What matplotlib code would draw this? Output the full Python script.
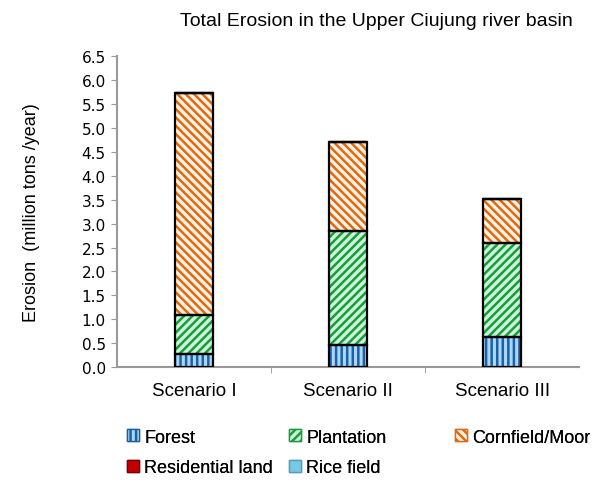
import matplotlib
matplotlib.use("Agg")
import matplotlib.pyplot as plt
import numpy as np
from matplotlib.patches import Patch

scenarios = ["Scenario I", "Scenario II", "Scenario III"]
forest = [0.27, 0.46, 0.64]
plantation = [0.83, 2.39, 1.96]
cornfield = [4.64, 1.86, 0.92]
residential = [0.0, 0.0, 0.0]
rice_field = [0.0, 0.0, 0.0]

plt.rcParams["font.family"] = ["Liberation Sans", "DejaVu Sans"]
plt.rcParams["hatch.linewidth"] = 1.8

# (label, values, face, hatch colour, hatch)
layers = [
    ("Forest", forest, "#a8d8f8", "#1f5fa8", "|||"),
    ("Plantation", plantation, "#c8f5dc", "#1e9a38", "////"),
    ("Cornfield/Moor", cornfield, "#fff1e4", "#e06a10", "\\\\\\\\"),
    ("Residential land", residential, "#c00000", "#7a0000", ""),
    ("Rice field", rice_field, "#7cc8e4", "#4aa0c0", ""),
]

fig = plt.figure(figsize=(6.09, 4.85), dpi=100)
ax = fig.add_axes([0.192, 0.241, 0.759, 0.641])

x = np.arange(len(scenarios))
width = 0.25
bottom = np.zeros(len(scenarios))
for label, vals, face, hcol, hatch in layers:
    vals = np.array(vals)
    ax.bar(x, vals, width, bottom=bottom, color=face, edgecolor=hcol,
           hatch=hatch, linewidth=0, zorder=2)
    ax.bar(x, vals, width, bottom=bottom, fill=False, edgecolor="black",
           linewidth=1.6, zorder=3)
    bottom += vals

ax.set_xlim(-0.5, 2.5)
ax.set_ylim(0, 6.5)
yt = np.arange(0, 6.51, 0.5)
ax.set_yticks(yt)
ax.set_yticklabels([f"{v:.1f}" for v in yt], family="DejaVu Sans", fontsize=11)
ax.set_xticks(x)
ax.set_xticklabels(scenarios, fontsize=13.5)
ax.set_xticks([0.5, 1.5], minor=True)
ax.tick_params(axis="x", which="major", length=0, pad=11)
ax.tick_params(axis="x", which="minor", length=4, color="#999999")
ax.tick_params(axis="y", length=4, color="#999999", pad=4)

for s in ["top", "right"]:
    ax.spines[s].set_visible(False)
for s in ["left", "bottom"]:
    ax.spines[s].set_color("#999999")
    ax.spines[s].set_linewidth(1.5)

ax.set_ylabel("Erosion  (million tons /year)", fontsize=13, labelpad=30)
fig.text(0.618, 0.955, "Total Erosion in the Upper Ciujung river basin",
         ha="center", va="center", fontsize=14)

handles = {}
for label, vals, face, hcol, hatch in layers:
    handles[label] = Patch(facecolor=face, edgecolor=hcol, hatch=hatch)

# legend laid out as three separate columns, like the original
legend_cols = [
    (["Forest", "Residential land"], 127 / 609),
    (["Plantation", "Rice field"], 289 / 609),
    (["Cornfield/Moor"], 455 / 609),
]
for names, xpos in legend_cols:
    leg = fig.legend([handles[k] for k in names], names, loc="upper left",
                     bbox_to_anchor=(xpos, 0.114), frameon=False, fontsize=13,
                     handlelength=0.65, handleheight=0.65, handletextpad=0.3,
                     labelspacing=0.75, borderaxespad=0, borderpad=0)
    fig.add_artist(leg)

fig.savefig("out.png", dpi=100)
